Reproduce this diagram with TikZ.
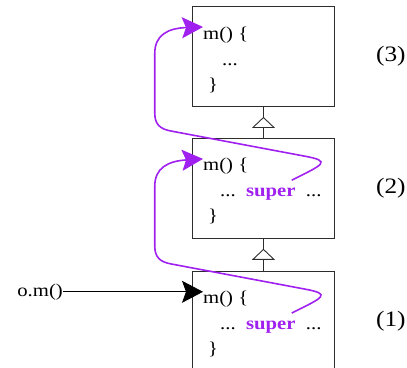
\documentclass[tikz,border=0pt]{standalone}
\usepackage{fontspec}
\setmainfont{Liberation Serif}[FakeStretch=1.15]
\usetikzlibrary{arrows.meta, positioning}
\definecolor{superPurple}{RGB}{160, 32, 240}
\definecolor{lineGray}{RGB}{45, 45, 45}

\begin{document}
\begin{tikzpicture}[
    node distance=31pt,
    % Node styles
    classbox/.style={
        rectangle,
        draw=lineGray,
        line width=0.9pt,
        minimum width=142pt,
        minimum height=100pt,
        inner sep=0pt
    },
    code/.style={
        inner sep=0pt,
        anchor=base west,
        font=\fontsize{18}{22}\selectfont
    },
    supercall/.style={
        code,
        font=\fontsize{18}{22}\selectfont\bfseries,
        text=superPurple
    },
    level/.style={
        inner sep=0pt,
        font=\fontsize{22}{26}\selectfont
    },
    callarrow/.style={
        -{Stealth[length=21pt, width=22pt, inset=4pt]},
        line width=0.8pt,
        color=black
    },
    superloop/.style={
        -{Stealth[length=21pt, width=21pt, inset=4pt]},
        line width=1.6pt,
        color=superPurple
    },
    inherit/.style={
        -{Triangle[open, length=11pt, width=23pt]},
        line width=0.9pt,
        draw=lineGray
    }
]
\useasboundingbox (0,0) rectangle (407pt,-367pt);

% Class boxes, top to bottom
\node[classbox, anchor=north west] (box3) at (192pt,-6pt) {};
\node[classbox, below=31pt of box3] (box2) {};
\node[classbox, below=32pt of box2] (box1) {};

% Level labels
\node[level, right=41pt of box3] (lvl3) {(3)};
\node[level, right=41pt of box2] (lvl2) {(2)};
\node[level, right=41pt of box1] (lvl1) {(1)};

% Method bodies
\foreach \k in {1,2,3} {
    \node[code] (mth\k) at ([xshift=11pt, yshift=-33pt]box\k.north west) {m() \{};
    \node[code] at ([xshift=16pt, yshift=-84pt]box\k.north west) {\}};
}
\node[code] at ([xshift=30pt, yshift=-59pt]box3.north west) {...};
\foreach \k in {1,2} {
    \node[code] (dots\k) at ([xshift=28pt, yshift=-59pt]box\k.north west) {...};
    \node[supercall, base right=10pt of dots\k] (sup\k) {super};
    \node[code, base right=10pt of sup\k] {...};
}

% Inheritance
\foreach \lo/\hi in {2/3, 1/2} {
    \draw[inherit] (box\lo.north) -- ([yshift=-10pt]box\hi.south);
    \draw[lineGray, line width=0.9pt] (box\hi.south) -- ([yshift=-10pt]box\hi.south);
}

% Call
\node[code, anchor=east] (call) at ([xshift=-140pt, yshift=12pt]mth1.base west) {o.m()};
\draw[callarrow] (call.east) -- (call.east -| mth1.west);

% super loops
\foreach \s/\t in {sup1/mth2, sup2/mth3} {
    \begin{scope}[shift={([xshift=-4pt, yshift=8pt]\s.north east)}]
        \draw[superloop] (0,0)
            .. controls (32pt,16pt) and (40pt,19pt) .. (13pt,24pt)
            -- (-120pt,49pt)
            .. controls (-132pt,51pt) and (-137pt,56pt) .. (-137pt,67pt)
            -- (-137pt,127pt)
            .. controls (-137pt,145pt) and (-124pt,152pt) .. ([yshift=12pt]\t.base west);
    \end{scope}
}

\end{tikzpicture}
\end{document}
